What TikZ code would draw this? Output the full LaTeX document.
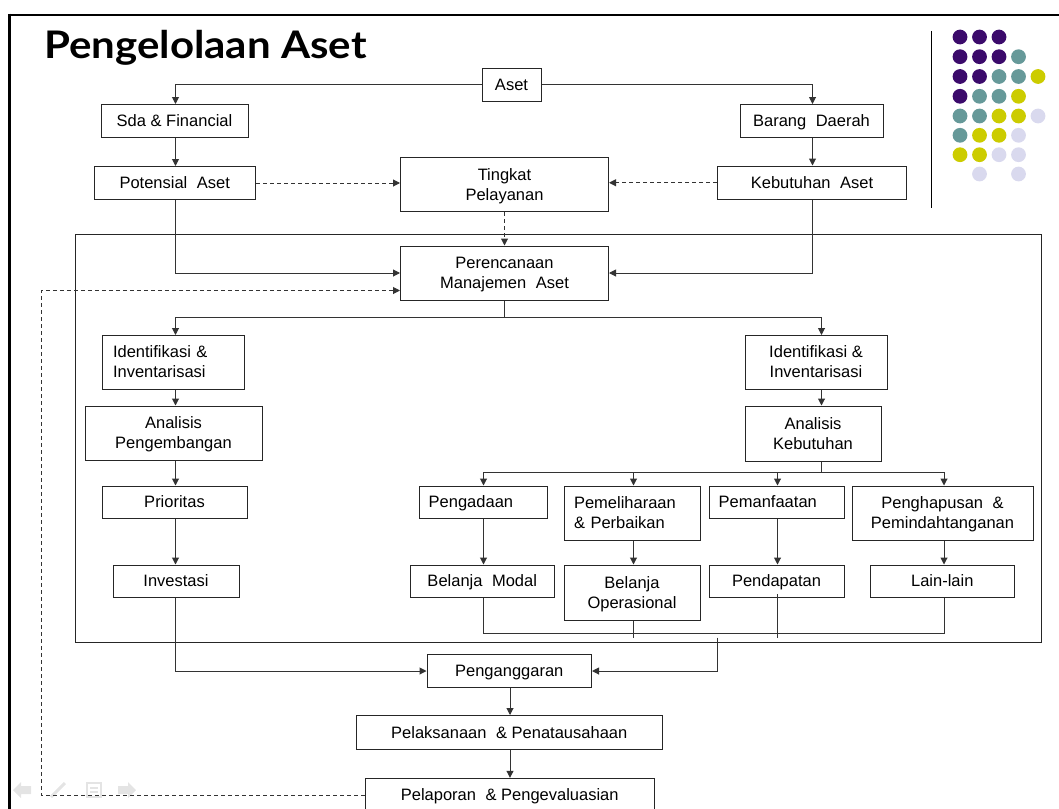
\documentclass[tikz,border=0pt]{standalone}
\usepackage{graphicx}
\usepackage{fontspec}
\setmainfont{Liberation Sans}
\newfontfamily\titlefont{Lato}
\usetikzlibrary{arrows.meta}

\definecolor{dotpurple}{HTML}{3B0A6B}
\definecolor{dotteal}{HTML}{669999}
\definecolor{dotyellow}{HTML}{CCCC00}
\definecolor{dotlilac}{HTML}{D9D9EE}
\definecolor{navgrey}{HTML}{E4E4E4}

% line strut with the ascent and descent of the text font
\newcommand\st{\rule[-3.5pt]{0pt}{18.4pt}}
% box given by its corners: [options]{x1}{y1}{x2}{y2}{name}{text}
\newcommand\bx[7][]{%
  \node[box,#1,minimum width={(#4-#2)*1pt},minimum height={(#5-#3)*1pt}]
    (#6) at ({(#2+#4)/2},{(#3+#5)/2}) {\st#7\st};}
% single-line label set flush left inside a box: {box name}{padding}{text}
\newcommand\lefttext[3]{%
  \node[label text, anchor=west] (#1-text) at ([xshift=#2pt]#1.west) {\st#3};}
\newcommand\wsp{\hspace{0.3em}}

\begin{document}
\begin{tikzpicture}[x=1pt,y=-1pt,
  box/.style={draw=black!85, line width=1pt, fill=white, inner sep=0pt,
    align=center, font=\fontsize{16.5}{20}\selectfont},
  label text/.style={inner sep=0pt, font=\fontsize{16.5}{20}\selectfont},
  link/.style={draw=black!80, line width=1pt},
  arr/.style={link, -{Triangle[length=7pt,width=7pt]}},
  darr/.style={arr, dash pattern=on 4pt off 3pt},
  dot/.style={circle, inner sep=0pt, minimum size=14.8pt}]

\clip (0,0) rectangle (1059,808);
\useasboundingbox (0,0) rectangle (1059,808);

% slide frame
\draw[line width=2.7pt] (9.3,15) -- (1070,15);
\draw[line width=2.7pt] (9.3,13.7) -- (9.3,820);

% title
\node[anchor=base west, inner sep=0pt,
  font=\titlefont\bfseries\fontsize{38}{42}\selectfont] (title) at (44,58.3)
  {\scalebox{1.105}[1]{Pengelolaan Aset}};

% separator and dot ornament
\draw[line width=1pt] (931.7,31) -- (931.7,208.3);
\foreach \row/\y/\cols in {
  1/37/{1/dotpurple,2/dotpurple,3/dotpurple},
  2/56.7/{1/dotpurple,2/dotpurple,3/dotpurple,4/dotteal},
  3/76.5/{1/dotpurple,2/dotpurple,3/dotteal,4/dotteal,5/dotyellow},
  4/96.3/{1/dotpurple,2/dotteal,3/dotteal,4/dotyellow},
  5/116/{1/dotteal,2/dotteal,3/dotyellow,4/dotyellow,5/dotlilac},
  6/135.3/{1/dotteal,2/dotyellow,3/dotyellow,4/dotlilac},
  7/154.7/{1/dotyellow,2/dotyellow,3/dotlilac,4/dotlilac},
  8/174/{2/dotlilac,4/dotlilac}} {
  \foreach \c/\col in \cols {
    \node[dot, fill=\col] (dot-\row-\c) at ({960+19.5*(\c-1)},\y) {};
  }
}

% navigation symbols
\fill[navgrey] (13,790) -- (21,782) -- (21,786) -- (31,786) -- (31,794) -- (21,794) -- (21,798) -- cycle;
\draw[navgrey, line width=3pt] (51,797) -- (65,783);
\draw[navgrey, line width=1.5pt] (87,783) rectangle (101,797);
\draw[navgrey, line width=1.5pt] (90,788) -- (98,788) (90,792) -- (98,792);
\fill[navgrey] (136,790) -- (128,782) -- (128,786) -- (118,786) -- (118,794) -- (128,794) -- (128,798) -- cycle;

% planning frame
\draw[black!85, line width=1.1pt] (75.5,234.5) rectangle (1041.5,642.5);

% column positions of the connectors
\coordinate (cl) at (175.5,0);
\coordinate (cr) at (812.5,0);
\coordinate (cr2) at (821.5,0);
\coordinate (c1) at (483.5,0);
\coordinate (c2) at (633.5,0);
\coordinate (c3) at (777.5,0);
\coordinate (c4) at (944,0);
\coordinate (c5) at (510,0);
\coordinate (split) at (0,317.5);
\coordinate (bus) at (0,472.5);
\coordinate (bus2) at (0,633.3);
\coordinate (fb) at (41,290.5);
\coordinate (jn) at (717.5,637.5);

% boxes
\bx{482}{68}{541}{101}{aset}{Aset}
\bx{101}{104.5}{248}{137}{sda}{Sda \& Financial}
\bx{740}{104.5}{883}{137}{brg}{Barang\wsp{} Daerah}
\bx{94}{166.5}{255.5}{199.5}{pot}{Potensial\wsp{} Aset}
\bx{400.5}{157.5}{608.5}{211.5}{ting}{Tingkat\\Pelayanan}
\bx{717.5}{166}{906.5}{199.5}{keb}{Kebutuhan\wsp{} Aset}
\bx{400.5}{246}{608.5}{300}{pma}{Perencanaan\\Manajemen\wsp{} Aset}
\bx[align=left,text width=120pt]{102}{335.5}{244}{389}{idl}{Identifikasi \&\\Inventarisasi}
\bx{745}{335.5}{887}{389}{idr}{Identifikasi \&\\Inventarisasi}
\bx{85}{406}{262}{460.5}{anp}{Analisis\\Pengembangan}
\bx{745}{406}{881}{461}{ank}{Analisis\\Kebutuhan}
\bx{102}{486}{247}{518.5}{pri}{Prioritas}
\bx{113}{565}{239}{597.5}{inv}{Investasi}
\bx{419}{486}{547}{518.5}{pgd}{}
\lefttext{pgd}{10}{Pengadaan}
\bx[align=left,text width=116pt]{564}{486}{700}{540}{pml}{Pemeliharaan\\\& Perbaikan}
\bx{709}{486}{844}{518.5}{pmf}{}
\lefttext{pmf}{10}{Pemanfaatan}
\bx{852}{486}{1033}{540}{phs}{Penghapusan\wsp{} \&\\Pemindahtanganan}
\bx{410.5}{565}{554}{597.5}{bm}{Belanja\wsp{} Modal}
\bx{564}{565}{700}{620.5}{bo}{Belanja\\Operasional}
\bx{709}{565}{844}{597.5}{pdp}{Pendapatan}
\bx{870}{565}{1014.5}{597.5}{lain}{Lain-lain}
\bx{427}{654.5}{591.5}{687.5}{ang}{Penganggaran}
\bx{356}{715.5}{662.5}{749.3}{lks}{Pelaksanaan\wsp{} \& Penatausahaan}
\bx{365}{778.3}{654.5}{812}{lap}{Pelaporan\wsp{} \& Pengevaluasian}

% top part
\draw[arr] (aset.west) -| (sda.north -| cl);
\draw[arr] (aset.east) -| (brg.north -| cr);
\draw[arr] (sda.south -| cl) -- (pot.north -| cl);
\draw[arr] (brg.south -| cr) -- (keb.north -| cr);
\draw[darr] (pot.east) -- (pot.east -| ting.west);
\draw[darr] (keb.west) -- (keb.west -| ting.east);
\draw[darr] (ting.south) -- (pma.north);
\draw[arr] (pot.south -| cl) |- (pma.west);
\draw[arr] (keb.south -| cr) |- (pma.east);

% feedback from reporting
\draw[darr] (lap.west) -| (fb) -- (fb -| pma.west);

% split below planning
\draw[link] (pma.south) -- (pma.south |- split);
\draw[arr] (pma.south |- split) -| (idl.north -| cl);
\draw[arr] (pma.south |- split) -| (idr.north -| cr2);

% development branch
\draw[arr] (idl.south -| cl) -- (anp.north -| cl);
\draw[arr] (anp.south -| cl) -- (pri.north -| cl);
\draw[arr] (pri.south -| cl) -- (inv.north -| cl);
\draw[arr] (inv.south -| cl) |- (ang.west);

% needs branch
\draw[arr] (idr.south -| cr2) -- (ank.north -| cr2);
\draw[link] (ank.south -| cr2) -- (cr2 |- bus);
\draw[arr] (cr2 |- bus) -| (pgd.north -| c1);
\draw[arr] (cr2 |- bus) -| (pml.north -| c2);
\draw[arr] (cr2 |- bus) -| (pmf.north -| c3);
\draw[arr] (cr2 |- bus) -| (phs.north -| c4);
\draw[arr] (pgd.south -| c1) -- (bm.north -| c1);
\draw[arr] (pml.south -| c2) -- (bo.north -| c2);
\draw[arr] (pmf.south -| c3) -- (pdp.north -| c3);
\draw[arr] (phs.south -| c4) -- (lain.north -| c4);

% spending lines joined below
\draw[link] (bm.south -| c1) -- (c1 |- bus2) -- (c4 |- bus2) -- (lain.south -| c4);
\draw[link] (bo.south -| c2) -- (c2 |- jn);
\draw[link] ([yshift=4pt]pdp.south -| c3) -- (c3 |- jn);
\draw[arr] (jn) |- (ang.east);

% execution and reporting
\draw[arr] (ang.south -| c5) -- (lks.north -| c5);
\draw[arr] (lks.south -| c5) -- (lap.north -| c5);
\end{tikzpicture}
\end{document}
